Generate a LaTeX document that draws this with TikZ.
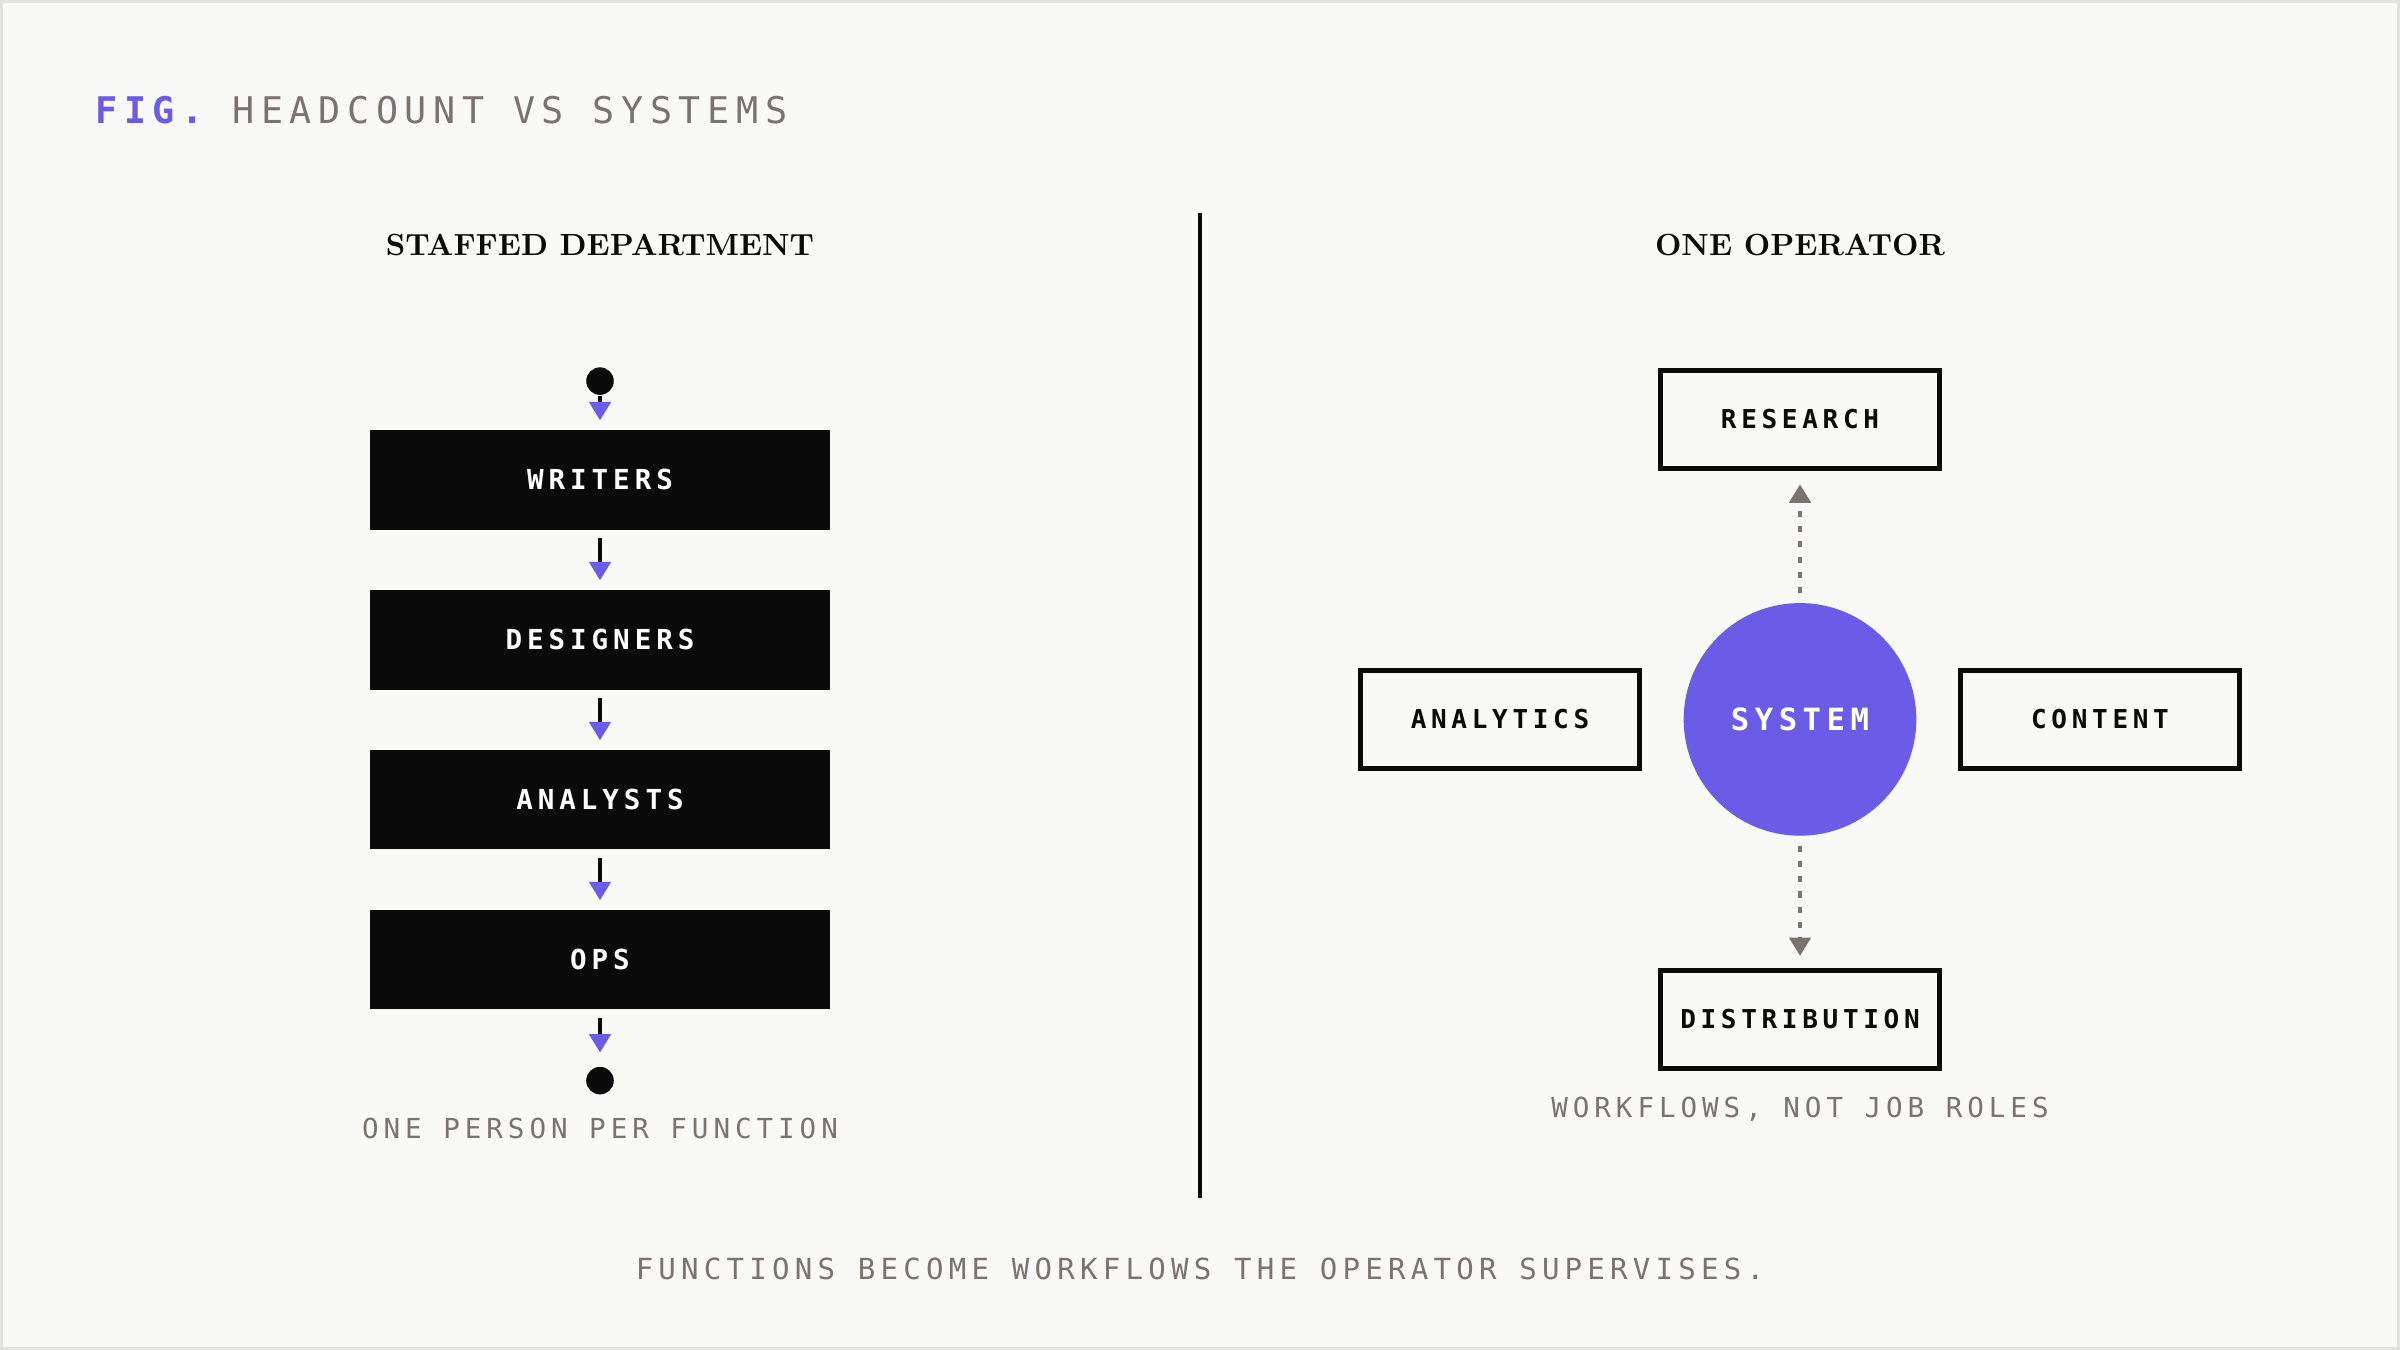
\documentclass[tikz,border=0pt]{standalone}
\usepackage{fontspec}
\usetikzlibrary{arrows.meta}
\newfontfamily\mymono[LetterSpace=18]{DejaVu Sans Mono}
\definecolor{bg}{HTML}{F9F9F7}
\definecolor{frame}{HTML}{E2E2E0}
\definecolor{pur}{HTML}{6B5CE7}
\definecolor{gry}{HTML}{7A7370}
\definecolor{ink}{HTML}{0A0A0A}
\begin{document}
\begin{tikzpicture}[x=0.5pt,y=-0.5pt,
  lbl/.style={font=\mymono\fontsize{#1}{#1}\selectfont},
  blk/.style={fill=ink,minimum width=150pt,minimum height=32.5pt,inner sep=0pt,text=white,font=\mymono\bfseries\fontsize{9}{9}\selectfont},
  obox/.style={draw=ink,line width=1.5pt,fill=bg,minimum width=91pt,minimum height=32pt,inner sep=0pt,text=ink,font=\mymono\bfseries\fontsize{8.5}{8.5}\selectfont},
  darr/.style={draw=ink,line width=1.2pt,-{Triangle[width=7pt,length=6pt,color=pur]}},
  garr/.style={draw=gry,line width=1.2pt,dash pattern=on 2pt off 3pt,-{Triangle[width=7pt,length=6pt]},shorten >=0pt},
  gtip/.style={fill=gry,draw=none}
]
\fill[frame] (0,0) rectangle (1568,882);
\fill[bg] (2,2) rectangle (1566,880);
\useasboundingbox (0,0) rectangle (1568,882);
\node[anchor=west,inner sep=0pt,lbl=12] (title) at (62,72) {\bfseries\textcolor{pur}{FIG.}\mdseries\ \textcolor{gry}{HEADCOUNT VS SYSTEMS}};
\node[lbl=9.5,font=\bfseries,text=ink] (h1) at (392,160) {STAFFED DEPARTMENT};
\node[lbl=9.5,font=\bfseries,text=ink] (h2) at (1176,160) {ONE OPERATOR};
\coordinate (d1) at (784,139); \coordinate (d2) at (784,783);
\draw[ink,line width=1.5pt] (d1) -- (d2);
% left column
\node[circle,fill=ink,minimum size=9pt,inner sep=0pt] (s) at (392,249) {};
\node[blk] (w) at (392,313.5) {WRITERS};
\node[blk] (de) at (392,418) {DESIGNERS};
\node[blk] (an) at (392,522.5) {ANALYSTS};
\node[blk] (op) at (392,627) {OPS};
\node[circle,fill=ink,minimum size=9pt,inner sep=0pt] (e) at (392,706) {};
\draw[darr] (s) -- ([yshift=3pt]w.north);
\draw[darr] ([yshift=-2.5pt]w.south) -- ([yshift=3pt]de.north);
\draw[darr] ([yshift=-2.5pt]de.south) -- ([yshift=3pt]an.north);
\draw[darr] ([yshift=-2.5pt]an.south) -- ([yshift=3pt]op.north);
\draw[darr] ([yshift=-2.5pt]op.south) -- ([yshift=4.5pt]e.north);
\node[lbl=9,text=gry] (c1) at (392,737) {ONE PERSON PER FUNCTION};
% right
\node[circle,fill=pur,minimum size=76pt,inner sep=0pt,text=white,font=\mymono\bfseries\fontsize{10}{10}\selectfont] (sys) at (1176,470) {SYSTEM};
\node[obox] (re) at (1176,274) {RESEARCH};
\node[obox] (ay) at (980,470) {ANALYTICS};
\node[obox] (co) at (1372,470) {CONTENT};
\node[obox] (di) at (1176,666) {DISTRIBUTION};
\draw[garr] ([yshift=3pt]sys.north) -- ([yshift=-4.5pt]re.south);
\draw[garr] ([yshift=-3pt]sys.south) -- ([yshift=4pt]di.north);
\draw[draw=none,-{Triangle[width=7pt,length=6pt,color=gry]}] ([xshift=-3pt]sys.west) -- ([xshift=4pt]ay.east);
\draw[draw=none,-{Triangle[width=7pt,length=6pt,color=gry]}] ([xshift=3pt]sys.east) -- ([xshift=-4pt]co.west);
\node[lbl=9,text=gry] (c2) at (1176,725) {WORKFLOWS, NOT JOB ROLES};
\node[lbl=9.5,text=gry] (cap) at (784,829) {FUNCTIONS BECOME WORKFLOWS THE OPERATOR SUPERVISES.};
\end{tikzpicture}
\end{document}
